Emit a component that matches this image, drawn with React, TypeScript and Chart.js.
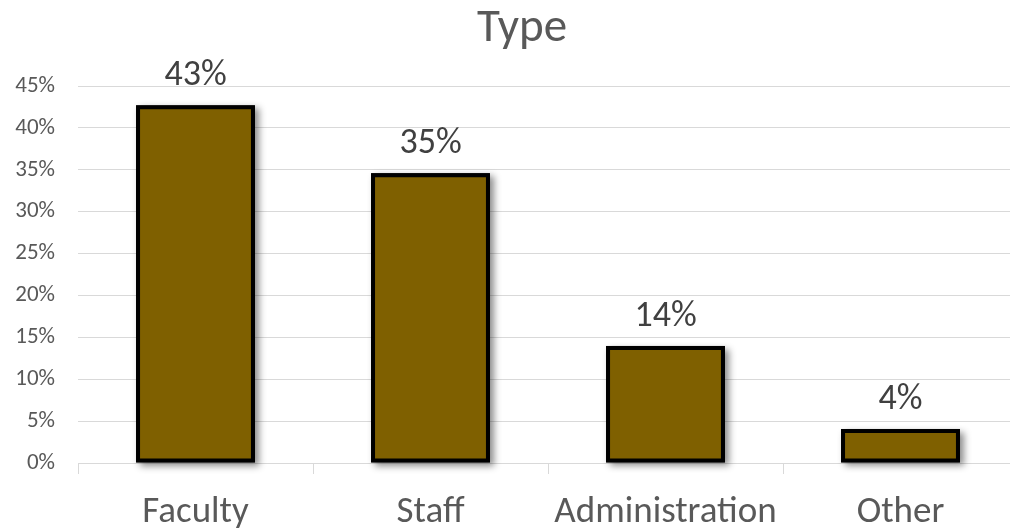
import { useEffect, useRef } from "react";
import { Chart, registerables } from "chart.js";

Chart.register(...registerables);

const chartTitle = "Type";
const categories = ["Faculty", "Staff", "Administration", "Other"];
const shares = [0.427, 0.346, 0.1397, 0.0406];
const yMin = 0;
const yMax = 0.45;
const yStep = 0.05;

const FONT = "Carlito, Calibri, Lato, 'Open Sans', sans-serif";
const TEXT = "#595959";
const LABEL_TEXT = "#404040";
const GRID = "#d9d9d9";
const BAR_FILL = "#7f6000";

const CANVAS_W = 1044;
const CANVAS_H = 531;

const pct = (v: number) => `${Math.round(v * 100)}%`;

const shadowPlugin = {
  id: "barShadow",
  beforeDatasetsDraw(chart: any) {
    const ctx = chart.ctx;
    const meta = chart.getDatasetMeta(0);
    meta.data.forEach((bar: any) => {
      const p = bar.getProps(["x", "y", "base", "width"], true);
      ctx.save();
      ctx.shadowColor = "rgba(0,0,0,0.45)";
      ctx.shadowBlur = 7;
      ctx.shadowOffsetX = 4;
      ctx.shadowOffsetY = 3;
      ctx.fillStyle = "#000";
      ctx.fillRect(p.x - p.width / 2, p.y, p.width, p.base - p.y);
      ctx.restore();
    });
  },
};

const labelPlugin = {
  id: "barLabels",
  afterDatasetsDraw(chart: any) {
    const ctx = chart.ctx;
    const meta = chart.getDatasetMeta(0);
    const data = chart.data.datasets[0].data as number[];
    ctx.save();
    ctx.font = `36px ${FONT}`;
    ctx.fillStyle = LABEL_TEXT;
    ctx.textAlign = "center";
    ctx.textBaseline = "alphabetic";
    meta.data.forEach((bar: any, i: number) => {
      const p = bar.getProps(["x", "y"], true);
      ctx.fillText(pct(data[i]), p.x, p.y - 20);
    });
    ctx.restore();
  },
};

const titlePlugin = {
  id: "customTitle",
  afterDraw(chart: any) {
    const ctx = chart.ctx;
    ctx.save();
    ctx.font = `47px ${FONT}`;
    ctx.fillStyle = TEXT;
    ctx.textAlign = "center";
    ctx.textBaseline = "alphabetic";
    ctx.fillText(chartTitle, chart.width / 2, 41);
    ctx.restore();
  },
};

export default function App() {
  const canvasRef = useRef<HTMLCanvasElement | null>(null);

  useEffect(() => {
    if (!canvasRef.current) return;
    const chart = new Chart(canvasRef.current, {
      type: "bar",
      data: {
        labels: categories,
        datasets: [
          {
            data: shares,
            backgroundColor: BAR_FILL,
            borderColor: "#000000",
            borderWidth: 4,
            borderSkipped: false,
            barPercentage: 1,
            categoryPercentage: 0.506,
          },
        ],
      },
      options: {
        responsive: false,
        animation: false,
        devicePixelRatio: 1,
        layout: { padding: { top: 86, right: 26, left: 0, bottom: 0 } },
        plugins: {
          legend: { display: false },
          title: { display: false },
          tooltip: { enabled: false },
        },
        scales: {
          x: {
            afterFit: (s: any) => {
              s.height = CANVAS_H - 463;
            },
            grid: {
              drawOnChartArea: false,
              drawTicks: true,
              tickLength: 11,
              color: GRID,
              lineWidth: 1,
            },
            border: { display: true, color: GRID, width: 1 },
            ticks: {
              color: TEXT,
              font: { family: FONT, size: 37 },
              padding: 17,
              maxRotation: 0,
              autoSkip: false,
            },
          },
          y: {
            min: yMin,
            max: yMax,
            afterFit: (s: any) => {
              s.width = 78;
            },
            grid: { color: GRID, lineWidth: 1, drawTicks: false },
            border: { display: false },
            ticks: {
              stepSize: yStep,
              color: TEXT,
              font: { family: FONT, size: 23 },
              padding: 23,
              callback: (v: any) => pct(Number(v)),
            },
          },
        },
      },
      plugins: [shadowPlugin, labelPlugin, titlePlugin],
    });
    return () => chart.destroy();
  }, []);

  return (
    <div
      style={{
        position: "fixed",
        left: 0,
        top: 0,
        width: 1010,
        height: CANVAS_H,
        overflow: "hidden",
        background: "#ffffff",
      }}
    >
      <canvas
        ref={canvasRef}
        width={CANVAS_W}
        height={CANVAS_H}
        style={{ width: CANVAS_W, height: CANVAS_H, display: "block" }}
      />
    </div>
  );
}
